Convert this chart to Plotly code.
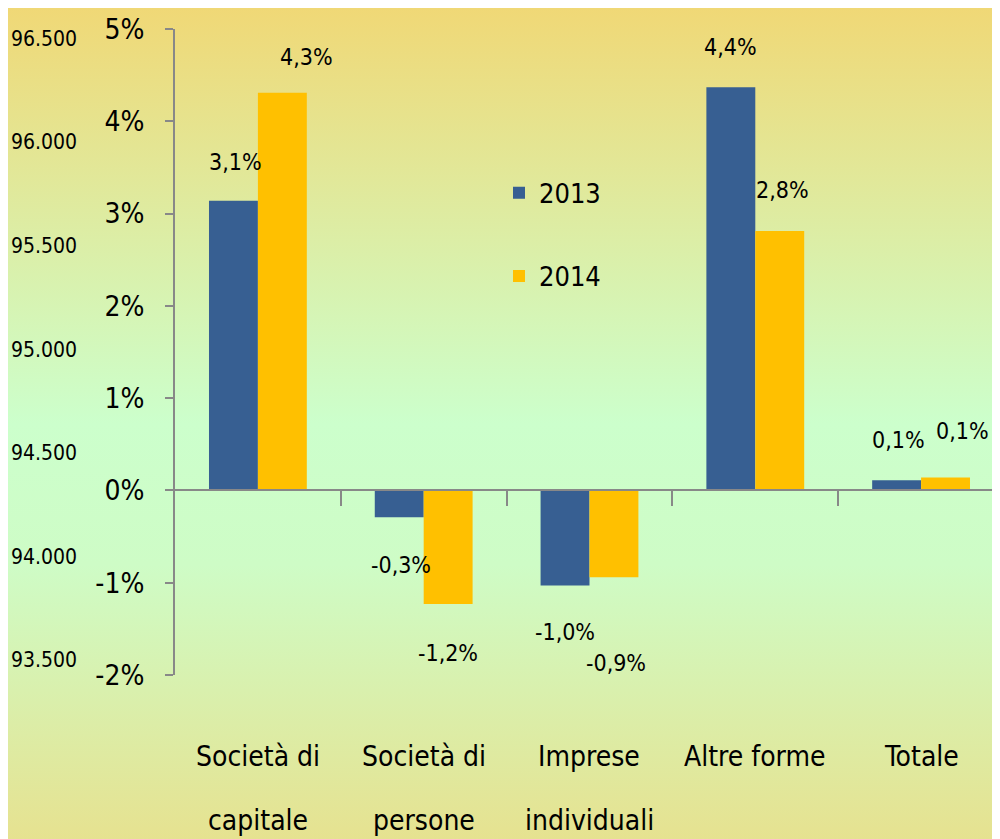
import base64
import plotly.graph_objects as go

# ---------------- data ----------------
categories = ["Società di<br>capitale", "Società di<br>persone", "Imprese<br>individuali",
              "Altre forme", "Totale"]
series_names = ["2013", "2014"]
values_2013 = [3.14, -0.29, -1.03, 4.37, 0.11]
values_2014 = [4.31, -1.23, -0.94, 2.81, 0.14]
y_ticks = [-2, -1, 0, 1, 2, 3, 4, 5]
y_tick_labels = ["-2%", "-1%", "0%", "1%", "2%", "3%", "4%", "5%"]
y2_ticks = [93500, 94000, 94500, 95000, 95500, 96000, 96500]
y2_tick_labels = ["93.500", "94.000", "94.500", "95.000", "95.500", "96.000", "96.500"]

# ---------------- style ----------------
FONT = "Liberation Sans Narrow, Arial Narrow, DejaVu Sans Condensed, sans-serif"
C2013 = "#375F92"
C2014 = "#FFC000"
AXIS = "#888888"
W, H = 992, 831          # page adds an 8px body offset
M_T, M_B = 21, 164
PLOT_H = H - M_T - M_B
PLOT_L = 167
Y_RANGE = [-2, 5]
Y2_RANGE = [93428, 96546]
X_RANGE = [-0.5, 4.476]
BARGAP = 0.41
half = (1 - BARGAP) / 4

# label placement offsets (pixels) for each bar label
lab_dx_2013 = [2, 2, 0, 0, 2]
lab_dy_2013 = [39, -48, -47, 40, 40]
lab_dx_2014 = [24, 0, 2, 3, 17]
lab_dy_2014 = [36, -49, -86, 41, 47]
# category label line centres (pixels below plot bottom)
cat_line_dy = [81, 145]

def fmt(v):
    return f"{v:.1f}".replace(".", ",") + "%"

xpos = list(range(len(categories)))

fig = go.Figure()
fig.add_trace(go.Bar(x=xpos, y=values_2013, name=series_names[0], marker_color=C2013,
                     marker_line_width=0, legendgroup="a"))
fig.add_trace(go.Bar(x=xpos, y=values_2014, name=series_names[1], marker_color=C2014,
                     marker_line_width=0, legendgroup="b"))
# helper traces so that the extra axes are drawn
fig.add_trace(go.Scatter(x=[0], y=[None], xaxis="x", yaxis="y2", showlegend=False,
                         hoverinfo="skip", mode="markers"))
fig.add_trace(go.Scatter(x=[0], y=[None], xaxis="x2", yaxis="y", showlegend=False,
                         hoverinfo="skip", mode="markers"))

annotations = []
for vals, dxs, dys, sgn in [(values_2013, lab_dx_2013, lab_dy_2013, -1),
                            (values_2014, lab_dx_2014, lab_dy_2014, 1)]:
    for i, v in enumerate(vals):
        annotations.append(dict(x=i + sgn * half, y=v, xref="x", yref="y", text=fmt(v),
                                showarrow=False, xshift=dxs[i], yshift=dys[i],
                                font=dict(family=FONT, size=23, color="black")))

# category labels (one text per line so the line spacing matches)
for i, cat in enumerate(categories):
    for j, line in enumerate(cat.split("<br>")):
        annotations.append(dict(x=i, y=-cat_line_dy[j] / PLOT_H, xref="x", yref="paper",
                                text=line, showarrow=False, yanchor="middle",
                                font=dict(family=FONT, size=28, color="black")))

svg = (f'<svg xmlns="http://www.w3.org/2000/svg" width="{W}" height="{H}" preserveAspectRatio="none">'
       '<defs><linearGradient id="g" x1="0" y1="0" x2="0" y2="1">'
       '<stop offset="0" stop-color="#F0D876"/>'
       '<stop offset="0.5" stop-color="#CCFFCC"/>'
       '<stop offset="0.67" stop-color="#CEFCC6"/>'
       '<stop offset="1" stop-color="#E6E290"/>'
       '</linearGradient></defs>'
       f'<rect width="{W}" height="{H}" fill="url(#g)"/></svg>')
bg = "data:image/svg+xml;base64," + base64.b64encode(svg.encode()).decode()

zero_pos = (0 - Y_RANGE[0]) / (Y_RANGE[1] - Y_RANGE[0])

fig.update_layout(
    width=W, height=H,
    margin=dict(l=0, r=0, t=M_T, b=M_B, pad=0, autoexpand=False),
    paper_bgcolor="#DDF0B0", plot_bgcolor="rgba(0,0,0,0)",
    barmode="group", bargap=BARGAP, bargroupgap=0,
    font=dict(family=FONT, color="black"),
    images=[dict(source=bg, xref="paper", yref="paper", x=0, y=1 + M_T / PLOT_H,
                 sizex=1, sizey=H / PLOT_H, sizing="stretch", xanchor="left",
                 yanchor="top", layer="below")],
    xaxis=dict(domain=[PLOT_L / W, 1], range=X_RANGE, tickmode="array", tickvals=xpos,
               showticklabels=False, showgrid=False, zeroline=False, showline=False,
               ticks="", automargin=False),
    xaxis2=dict(overlaying="x", anchor="free", position=zero_pos, range=X_RANGE,
                tickmode="array", tickvals=[0.5, 1.5, 2.5, 3.5, 4.5], ticks="outside",
                ticklen=15, tickwidth=2, tickcolor=AXIS, showline=True, linecolor=AXIS,
                linewidth=2, showticklabels=False, showgrid=False, zeroline=False,
                automargin=False),
    yaxis=dict(range=Y_RANGE, tickmode="array", tickvals=y_ticks, ticktext=y_tick_labels,
               showgrid=False, zeroline=False, showline=True, linecolor=AXIS, linewidth=2,
               ticks="outside", ticklen=8, tickwidth=2, tickcolor=AXIS,
               ticklabelstandoff=15, automargin=False,
               tickfont=dict(family=FONT, size=28, color="black")),
    yaxis2=dict(overlaying="y", anchor="free", position=69 / W, side="left", range=Y2_RANGE,
                tickmode="array", tickvals=y2_ticks, ticktext=y2_tick_labels,
                showgrid=False, zeroline=False, showline=False, ticks="",
                automargin=False,
                tickfont=dict(family=FONT, size=21, color="black")),
    legend=dict(x=491 / W, y=0.7836, xanchor="left", yanchor="top", bgcolor="rgba(0,0,0,0)",
                font=dict(family=FONT, size=27, color="black"), tracegroupgap=45,
                itemwidth=30),
    annotations=annotations,
    showlegend=True,
)

fig.write_html("out.html")
